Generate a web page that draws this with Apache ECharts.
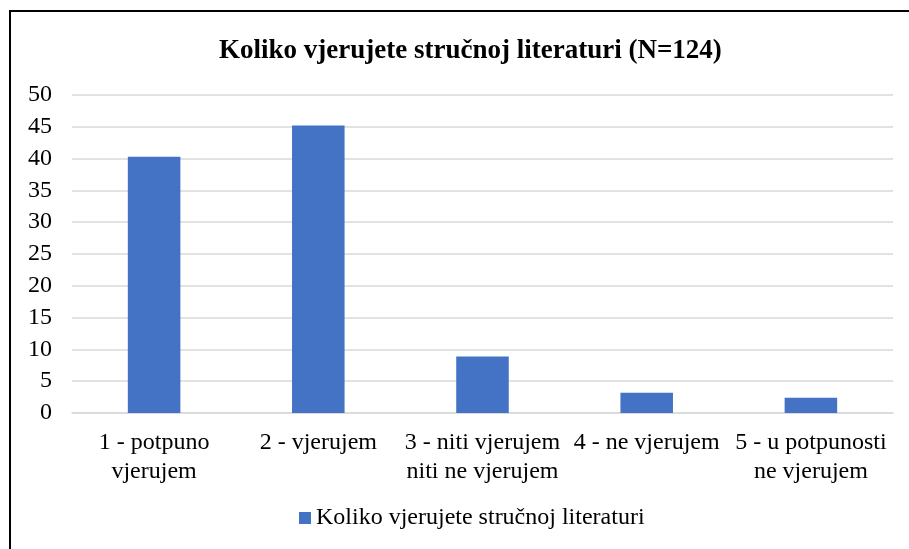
<!DOCTYPE html>
<html>
<head>
<meta charset="utf-8">
<script src="https://cdn.jsdelivr.net/npm/echarts@6/dist/echarts.min.js"></script>
<style>
  html, body { margin: 0; padding: 0; background: #fff; }
  #chart { width: 909px; height: 549px; }
</style>
</head>
<body>
<div id="chart"></div>
<script>
const categories = [
  '1 - potpuno\nvjerujem',
  '2 - vjerujem',
  '3 - niti vjerujem\nniti ne vjerujem',
  '4 - ne vjerujem',
  '5 - u potpunosti\nne vjerujem'
]
const values = [40.3, 45.2, 8.9, 3.2, 2.4]
const seriesName = 'Koliko vjerujete stručnoj literaturi'
const titleText = 'Koliko vjerujete stručnoj literaturi (N=124)'

const font = 'Liberation Serif, Times New Roman, serif'

const chart = echarts.init(document.getElementById('chart'))
chart.setOption({
  animation: false,
  backgroundColor: '#fff',
  title: {
    text: titleText,
    left: 214,
    top: 33,
    textStyle: { fontFamily: font, fontSize: 27, fontWeight: 'bold', color: '#000' }
  },
  legend: {
    data: [seriesName],
    bottom: 14,
    left: 294,
    itemWidth: 12,
    itemHeight: 12,
    icon: 'rect',
    textStyle: { fontFamily: font, fontSize: 24, color: '#000' }
  },
  grid: { left: 72, right: 16, top: 95, bottom: 136, containLabel: false },
  xAxis: {
    type: 'category',
    data: categories,
    axisTick: { show: false },
    axisLine: { lineStyle: { color: '#d9d9d9', width: 1.5 } },
    axisLabel: {
      interval: 0,
      margin: 15,
      lineHeight: 29,
      fontFamily: font,
      fontSize: 24,
      color: '#000'
    }
  },
  yAxis: {
    type: 'value',
    min: 0,
    max: 50,
    interval: 5,
    axisLine: { show: false },
    axisTick: { show: false },
    splitLine: { lineStyle: { color: '#d9d9d9', width: 1.5 } },
    axisLabel: { margin: 20, fontFamily: font, fontSize: 24, color: '#000' }
  },
  series: [{
    name: seriesName,
    type: 'bar',
    data: values,
    barWidth: '32%',
    itemStyle: { color: '#4472c4' }
  }],
  graphic: [{
    type: 'rect',
    shape: { x: 10, y: 11, width: 1000, height: 1000 },
    style: { fill: 'none', stroke: '#000', lineWidth: 2 },
    silent: true
  }]
})
</script>
</body>
</html>
